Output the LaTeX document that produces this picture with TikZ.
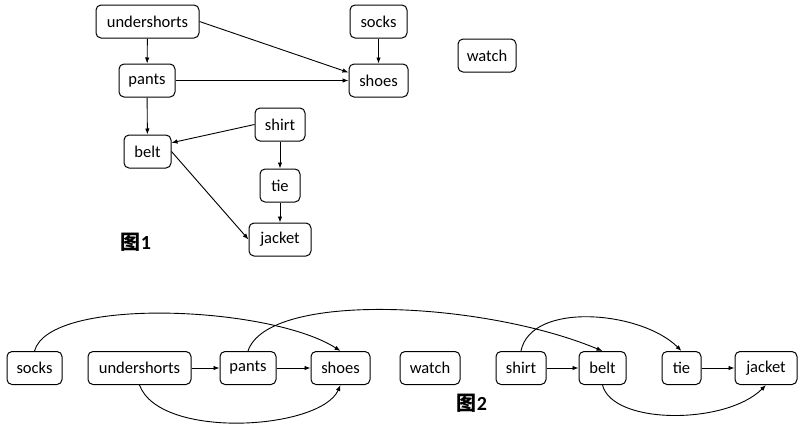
\documentclass[tikz,border=0pt]{standalone}
\usepackage{fontspec}
\setmainfont{Carlito}
\newfontfamily\cjk{Noto Sans CJK SC}
\usetikzlibrary{arrows.meta}
\tikzset{
  box/.style={draw, line width=1pt, rounded corners=5pt, minimum height=33pt, inner xsep=8pt, inner ysep=0pt, font=\fontsize{16.5}{19}\selectfont},
  arr/.style={line width=0.9pt, -{Latex[length=6pt,width=4.5pt]}},
  fig/.style={font=\fontsize{20}{24}\selectfont\bfseries}
}
\begin{document}
\begin{tikzpicture}[x=1pt,y=-1pt]
\useasboundingbox (0,0) rectangle (801,424);
% figure 1
\node[box, minimum width=103pt] (u1) at (147.5,21.5) {undershorts};
\node[box, minimum width=57pt] (so1) at (378.5,21.5) {socks};
\node[box, minimum width=58pt] (w1) at (487,55.5) {watch};
\node[box, minimum width=56pt] (p1) at (147,80.5) {pants};
\node[box, minimum width=59pt] (sh1) at (378.5,80.5) {shoes};
\node[box, minimum width=50pt] (st1) at (280,124.5) {shirt};
\node[box, minimum width=47pt] (b1) at (147.5,151.5) {belt};
\node[box, minimum width=40pt] (t1) at (280,185.5) {tie};
\node[box, minimum width=62pt] (j1) at (280,239.5) {jacket};
\node[fig] (f1) at (136,242) {{\cjk 图}1};
\draw[arr] (u1) -- (p1);
\draw[arr] (u1.east) -- (sh1.165);
\draw[arr] (so1) -- (sh1);
\draw[arr] (p1) -- (sh1);
\draw[arr] (p1) -- (b1);
\draw[arr] (st1.west) -- (b1.20);
\draw[arr] (st1) -- (t1);
\draw[arr] (t1) -- (j1);
\draw[arr] (b1.east) -- (j1.west);
% figure 2
\node[box, minimum width=55pt] (so2) at (34.5,368) {socks};
\node[box, minimum width=103pt] (u2) at (139.5,368) {undershorts};
\node[box, minimum width=56pt] (p2) at (248,368) {pants};
\node[box, minimum width=59pt] (sh2) at (340.5,368) {shoes};
\node[box, minimum width=60pt] (w2) at (430,368) {watch};
\node[box, minimum width=50pt] (st2) at (521,368) {shirt};
\node[box, minimum width=47pt] (b2) at (602.5,368) {belt};
\node[box, minimum width=39pt] (t2) at (681.5,368) {tie};
\node[box, minimum width=62pt] (j2) at (766,368) {jacket};
\node[fig] (f2) at (472,403) {{\cjk 图}2};
\draw[arr] (u2) -- (p2);
\draw[arr] (p2) -- (sh2);
\draw[arr] (st2) -- (b2);
\draw[arr] (t2) -- (j2);
\draw[arr] (so2.north) .. controls +(15,-55) and +(-70,-45) .. (sh2.north);
\draw[arr] (p2.north) .. controls +(20,-60) and +(-120,-50) .. (b2.north);
\draw[arr] (st2.north) .. controls +(10,-50) and +(-40,-40) .. (t2.north);
\draw[arr] (u2.south) .. controls +(20,55) and +(-20,45) .. (sh2.south);
\draw[arr] (b2.south) .. controls +(10,40) and +(-40,40) .. (j2.south);
\end{tikzpicture}
\end{document}
